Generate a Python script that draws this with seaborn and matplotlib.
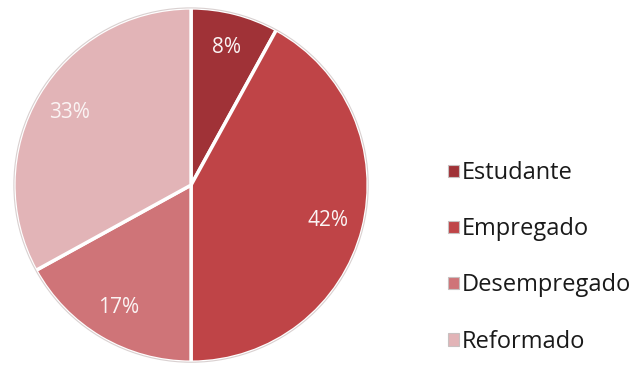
import matplotlib
matplotlib.use("Agg")
import matplotlib.pyplot as plt
import seaborn as sns

categories = ["Estudante", "Empregado", "Desempregado", "Reformado"]
shares = [8, 42, 17, 33]
slice_colors = ["#a03237", "#bf4447", "#cf7478", "#e2b4b7"]

sns.set_style("white")
plt.rcParams["font.family"] = ["Open Sans", "DejaVu Sans"]
palette = sns.color_palette(slice_colors)

fig = plt.figure(figsize=(6.36, 3.72), dpi=100)
ax = fig.add_axes([0.0189, 0.0215, 0.563, 0.962])

wedges, texts, autotexts = ax.pie(
    shares,
    colors=palette,
    startangle=90,
    counterclock=False,
    autopct=lambda p: f"{p:.0f}%",
    pctdistance=0.8,
    radius=1.0,
    wedgeprops=dict(edgecolor="white", linewidth=2.5),
    textprops=dict(color="#fbf4f4", fontsize=15),
)
ax.add_patch(plt.Circle((0, 0), 1.0, fill=False, edgecolor="#d9d0d0", linewidth=0.8))
ax.set_xlim(-1.01, 1.01)
ax.set_ylim(-1.01, 1.01)
ax.set_aspect("equal")
ax.axis("off")

leg = fig.legend(
    wedges, categories,
    loc="center left",
    bbox_to_anchor=(0.671, 0.308),
    frameon=False,
    fontsize=17,
    handlelength=0.45,
    handleheight=0.45,
    handletextpad=0.15,
    labelspacing=1.36,
)
for h in leg.legend_handles:
    h.set_edgecolor("#c8c0c0")
    h.set_linewidth(0.8)
for t in leg.get_texts():
    t.set_color("#1a1a1a")

fig.savefig("out.png", dpi=100)
